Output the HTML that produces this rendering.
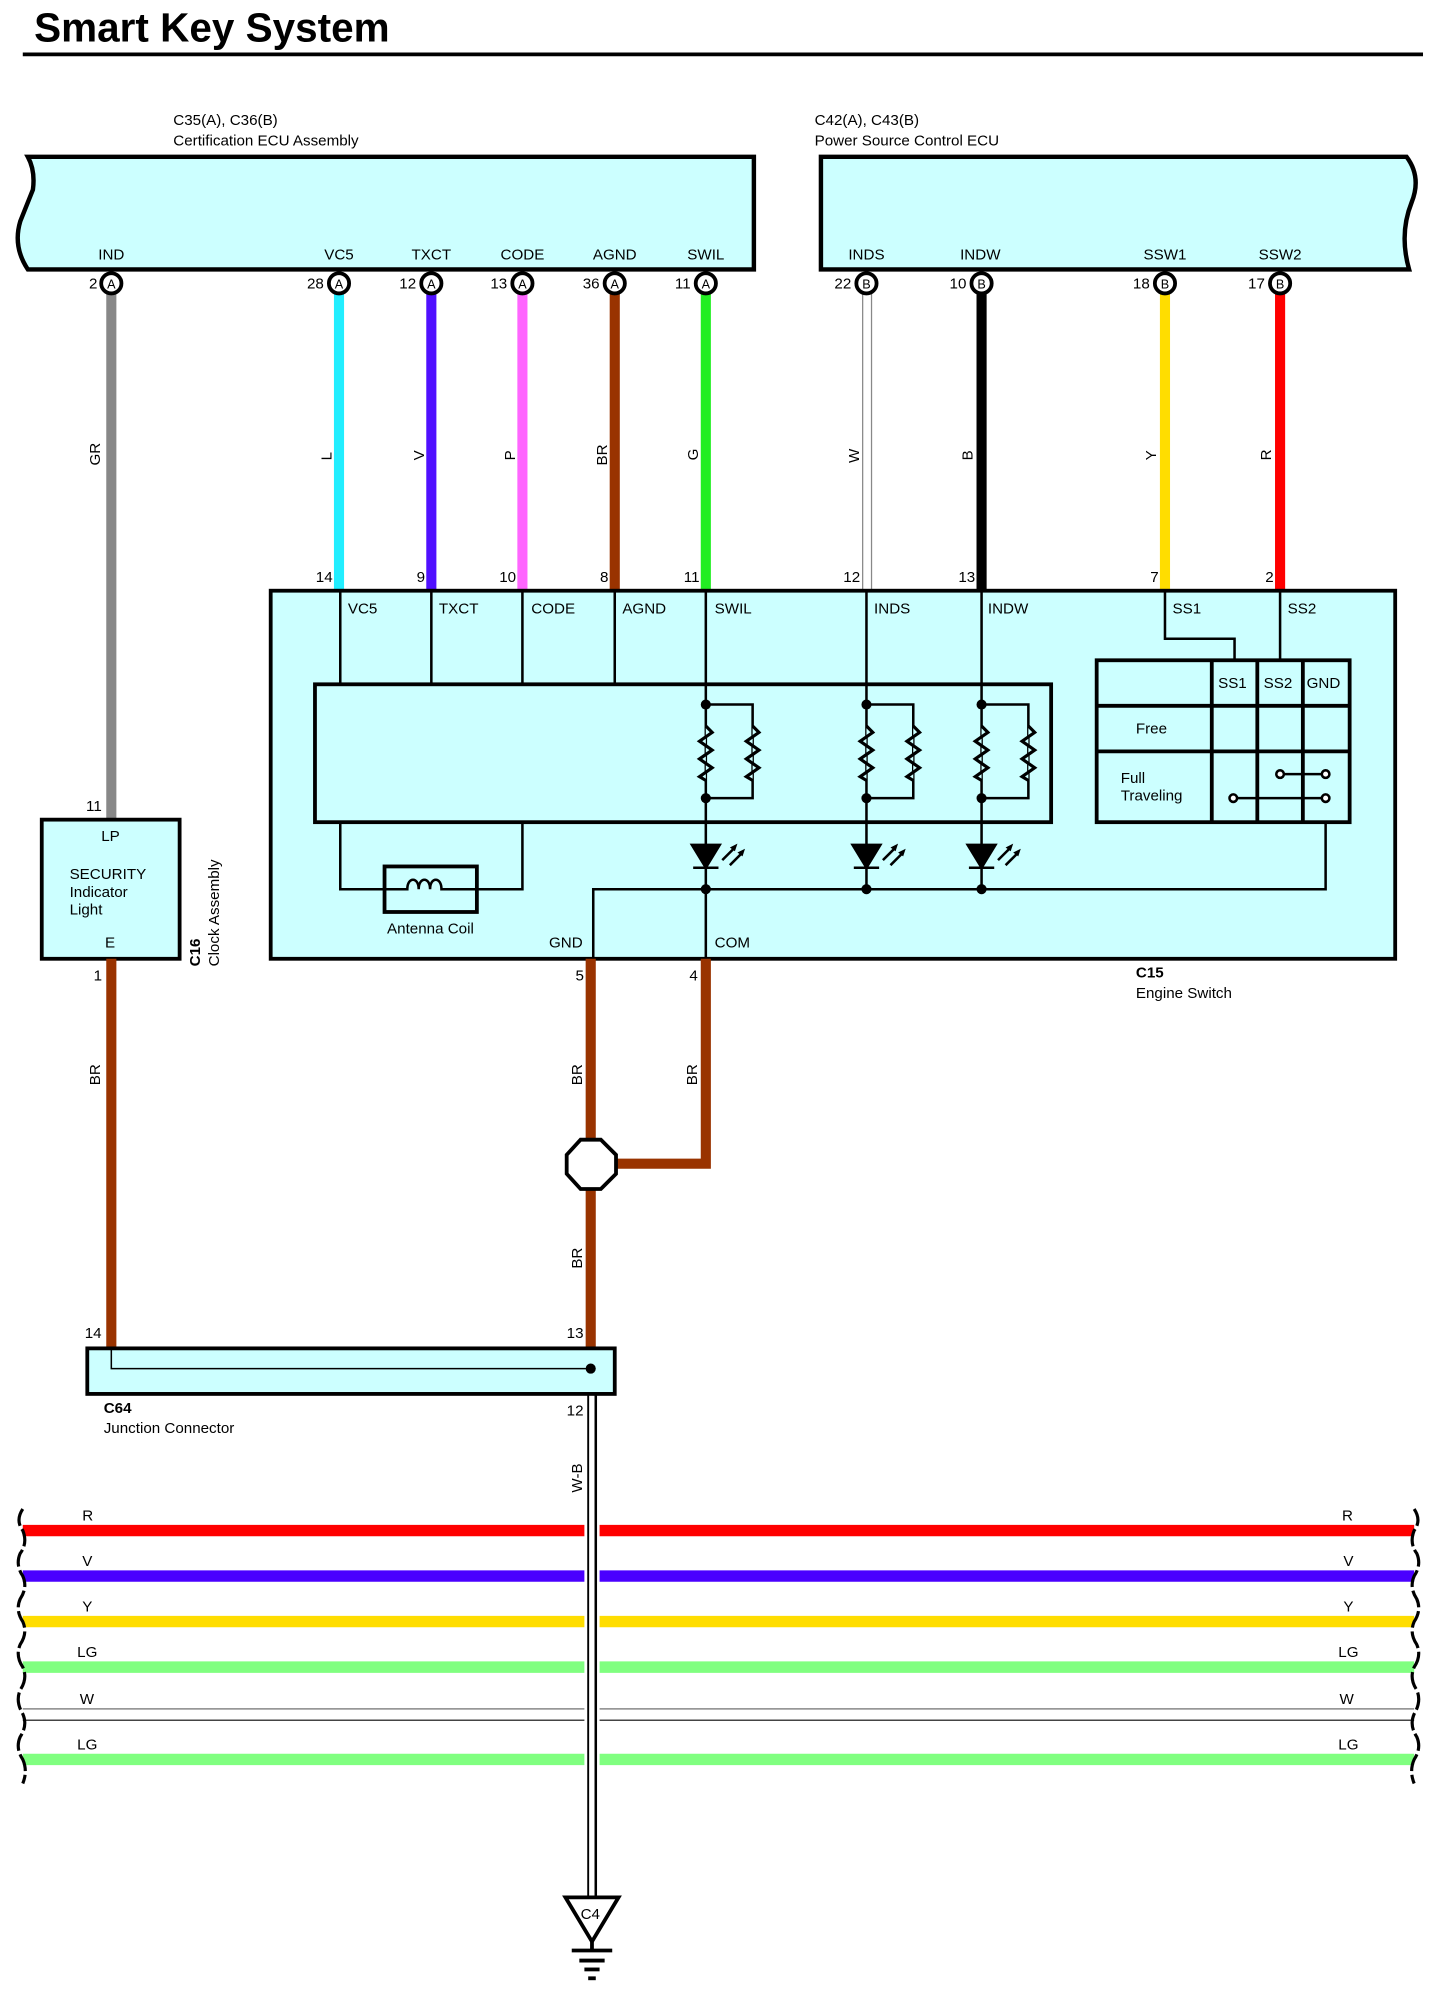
<!DOCTYPE html>
<html><head><meta charset="utf-8"><style>
html,body{margin:0;padding:0;background:#fff}
svg{display:block}
text{font-family:"Liberation Sans",sans-serif;fill:#000}
</style></head><body>
<svg width="1442" height="1996" viewBox="0 0 1140 1578" xmlns="http://www.w3.org/2000/svg">
<rect width="1140" height="1578" fill="#fff"/>
<text x="27" y="33" font-size="32" font-weight="bold">Smart Key System</text>
<line x1="18" y1="43" x2="1125" y2="43" stroke="#000" stroke-width="3"/>

<!-- ECU1 -->
<text x="137" y="99" font-size="12">C35(A), C36(B)</text>
<text x="137" y="115" font-size="12">Certification ECU Assembly</text>
<path d="M22,124 L596,124 L596,213 L22,213 Q10,195 16,175 Q22,160 26,150 Q28,135 22,124 Z" fill="#ccffff" stroke="#000" stroke-width="3.5"/>
<g font-size="12" text-anchor="middle">
<text x="88" y="205">IND</text><text x="268" y="205">VC5</text><text x="341" y="205">TXCT</text>
<text x="413" y="205">CODE</text><text x="486" y="205">AGND</text><text x="558" y="205">SWIL</text>
</g>
<!-- ECU2 -->
<text x="644" y="99" font-size="12">C42(A), C43(B)</text>
<text x="644" y="115" font-size="12">Power Source Control ECU</text>
<path d="M649,124 L1112,124 Q1124,140 1116,160 Q1106,185 1114,213 L649,213 Z" fill="#ccffff" stroke="#000" stroke-width="3.5"/>
<g font-size="12" text-anchor="middle">
<text x="685" y="205">INDS</text><text x="775" y="205">INDW</text><text x="921" y="205">SSW1</text><text x="1012" y="205">SSW2</text>
</g>

<!-- top wires -->
<g stroke-width="8" fill="none">
<line x1="88" y1="232" x2="88" y2="648" stroke="#888"/>
<line x1="268" y1="232" x2="268" y2="467" stroke="#22eeff"/>
<line x1="341" y1="232" x2="341" y2="467" stroke="#5010ff"/>
<line x1="413" y1="232" x2="413" y2="467" stroke="#ff66ff"/>
<line x1="486" y1="232" x2="486" y2="467" stroke="#993300"/>
<line x1="558" y1="232" x2="558" y2="467" stroke="#22ee22"/>
<line x1="776" y1="232" x2="776" y2="467" stroke="#000"/>
<line x1="921" y1="232" x2="921" y2="467" stroke="#ffdd00"/>
<line x1="1012" y1="232" x2="1012" y2="467" stroke="#ff0000"/>
</g>
<line x1="682" y1="232" x2="682" y2="467" stroke="#888" stroke-width="1"/>
<line x1="689" y1="232" x2="689" y2="467" stroke="#888" stroke-width="1"/>
<!-- pins -->
<g stroke="#000" stroke-width="3" fill="#fff">
<circle cx="88" cy="224" r="8"/><circle cx="268" cy="224" r="8"/><circle cx="341" cy="224" r="8"/>
<circle cx="413" cy="224" r="8"/><circle cx="486" cy="224" r="8"/><circle cx="558" cy="224" r="8"/>
<circle cx="685" cy="224" r="8"/><circle cx="776" cy="224" r="8"/><circle cx="921" cy="224" r="8"/><circle cx="1012" cy="224" r="8"/>
</g>
<g font-size="10" text-anchor="middle">
<text x="88" y="228">A</text><text x="268" y="228">A</text><text x="341" y="228">A</text><text x="413" y="228">A</text><text x="486" y="228">A</text><text x="558" y="228">A</text>
<text x="685" y="228">B</text><text x="776" y="228">B</text><text x="921" y="228">B</text><text x="1012" y="228">B</text>
</g>
<g font-size="12" text-anchor="end">
<text x="77" y="228">2</text><text x="256" y="228">28</text><text x="329" y="228">12</text><text x="401" y="228">13</text><text x="474" y="228">36</text><text x="546" y="228">11</text>
<text x="673" y="228">22</text><text x="764" y="228">10</text><text x="909" y="228">18</text><text x="1000" y="228">17</text>
<text x="263" y="460">14</text><text x="336" y="460">9</text><text x="408" y="460">10</text><text x="481" y="460">8</text><text x="553" y="460">11</text>
<text x="680" y="460">12</text><text x="771" y="460">13</text><text x="916" y="460">7</text><text x="1007" y="460">2</text>
</g>
<g font-size="12">
<text transform="translate(79,368) rotate(-90)">GR</text>
<text transform="translate(262,364) rotate(-90)">L</text>
<text transform="translate(335,364) rotate(-90)">V</text>
<text transform="translate(407,364) rotate(-90)">P</text>
<text transform="translate(480,368) rotate(-90)">BR</text>
<text transform="translate(552,364) rotate(-90)">G</text>
<text transform="translate(679,366) rotate(-90)">W</text>
<text transform="translate(769,364) rotate(-90)">B</text>
<text transform="translate(914,364) rotate(-90)">Y</text>
<text transform="translate(1005,364) rotate(-90)">R</text>
</g>

<!-- Engine switch -->
<rect x="214" y="467" width="889" height="291" fill="#ccffff" stroke="#000" stroke-width="3"/>
<g font-size="12">
<text x="275" y="485">VC5</text><text x="347" y="485">TXCT</text><text x="420" y="485">CODE</text><text x="492" y="485">AGND</text>
<text x="565" y="485">SWIL</text><text x="691" y="485">INDS</text><text x="781" y="485">INDW</text><text x="927" y="485">SS1</text><text x="1018" y="485">SS2</text>
<text x="434" y="749">GND</text><text x="565" y="749">COM</text>
<text x="306" y="738">Antenna Coil</text>
</g>
<g stroke="#000" stroke-width="2" fill="none">
<line x1="269" y1="467" x2="269" y2="541"/><line x1="341" y1="467" x2="341" y2="541"/>
<line x1="413" y1="467" x2="413" y2="541"/><line x1="486" y1="467" x2="486" y2="541"/>
<line x1="558" y1="467" x2="558" y2="758"/><line x1="685" y1="467" x2="685" y2="703"/><line x1="776" y1="467" x2="776" y2="703"/>
<polyline points="921,467 921,505 976,505 976,522"/>
<line x1="1012" y1="467" x2="1012" y2="522"/>
<polyline points="269,650 269,703 304,703"/><polyline points="377,703 413,703 413,650"/>
<polyline points="469,758 469,703 1048,703 1048,650"/>
</g>
<rect x="249" y="541" width="582" height="109" fill="#ccffff" stroke="#000" stroke-width="3"/>
<!-- resistors -->
<g stroke="#000" stroke-width="2" fill="none">
<line x1="558" y1="541" x2="558" y2="650"/><polyline points="558,557 595,557 595,631 558,631"/>
<line x1="685" y1="541" x2="685" y2="650"/><polyline points="685,557 722,557 722,631 685,631"/>
<line x1="776" y1="541" x2="776" y2="650"/><polyline points="776,557 813,557 813,631 776,631"/>
</g>
<g stroke="#000" stroke-width="2.5" fill="#ccffff">
<polyline points="558,574 563,579 553,586 563,593 553,600 563,607 553,614 558,617"/>
<polyline points="595,574 600,579 590,586 600,593 590,600 600,607 590,614 595,617"/>
<polyline points="685,574 690,579 680,586 690,593 680,600 690,607 680,614 685,617"/>
<polyline points="722,574 727,579 717,586 727,593 717,600 727,607 717,614 722,617"/>
<polyline points="776,574 781,579 771,586 781,593 771,600 781,607 771,614 776,617"/>
<polyline points="813,574 818,579 808,586 818,593 808,600 818,607 808,614 813,617"/>
</g>
<g fill="#000">
<circle cx="558" cy="557" r="4"/><circle cx="558" cy="631" r="4"/><circle cx="685" cy="557" r="4"/><circle cx="685" cy="631" r="4"/>
<circle cx="776" cy="557" r="4"/><circle cx="776" cy="631" r="4"/>
<circle cx="558" cy="703" r="4"/><circle cx="685" cy="703" r="4"/><circle cx="776" cy="703" r="4"/>
</g>
<!-- LEDs -->
<g stroke="#000" stroke-width="2" fill="#000">
<path d="M547,668 L569,668 L558,686 Z"/><line x1="548" y1="686" x2="568" y2="686"/>
<path d="M674,668 L696,668 L685,686 Z"/><line x1="675" y1="686" x2="695" y2="686"/>
<path d="M765,668 L787,668 L776,686 Z"/><line x1="766" y1="686" x2="786" y2="686"/>
</g>
<g stroke="#000" stroke-width="2">
<line x1="571" y1="680" x2="581" y2="670"/><line x1="577" y1="684" x2="587" y2="674"/>
<line x1="698" y1="680" x2="708" y2="670"/><line x1="704" y1="684" x2="714" y2="674"/>
<line x1="789" y1="680" x2="799" y2="670"/><line x1="795" y1="684" x2="805" y2="674"/>
</g>
<g fill="#000"><path d="M583,667 L577,670 L581,673Z"/><path d="M589,671 L583,674 L587,677Z"/>
<path d="M710,667 L704,670 L708,673Z"/><path d="M716,671 L710,674 L714,677Z"/>
<path d="M801,667 L795,670 L799,673Z"/><path d="M807,671 L801,674 L805,677Z"/></g>
<!-- antenna coil -->
<rect x="304" y="685" width="73" height="36" fill="#ccffff" stroke="#000" stroke-width="3"/>
<path d="M304,703 L322,703 C322,693 331,693 331,703 C331,693 340,693 340,703 C340,693 349,693 349,703 L377,703" fill="none" stroke="#000" stroke-width="2"/>
<!-- table -->
<g stroke="#000" stroke-width="3" fill="none">
<rect x="867" y="522" width="200" height="128" fill="#ccffff"/>
<line x1="867" y1="558" x2="1067" y2="558"/><line x1="867" y1="594" x2="1067" y2="594"/>
<line x1="958" y1="522" x2="958" y2="650"/><line x1="994" y1="522" x2="994" y2="650"/><line x1="1030" y1="522" x2="1030" y2="650"/>
</g>
<g font-size="12"><text x="963" y="544">SS1</text><text x="999" y="544">SS2</text><text x="1033" y="544">GND</text>
<text x="898" y="580">Free</text><text x="886" y="619">Full</text><text x="886" y="633">Traveling</text></g>
<g stroke="#000" stroke-width="2" fill="#fff">
<line x1="1012" y1="612" x2="1048" y2="612"/><line x1="975" y1="631" x2="1048" y2="631"/>
<circle cx="1012" cy="612" r="3"/><circle cx="1048" cy="612" r="3"/><circle cx="975" cy="631" r="3"/><circle cx="1048" cy="631" r="3"/>
</g>
<text x="898" y="773" font-size="12" font-weight="bold">C15</text>
<text x="898" y="789" font-size="12">Engine Switch</text>

<!-- Clock -->
<rect x="33" y="648" width="109" height="110" fill="#ccffff" stroke="#000" stroke-width="3"/>
<g font-size="12"><text x="68" y="641">11</text><text x="80" y="665">LP</text>
<text x="55" y="695">SECURITY</text><text x="55" y="709">Indicator</text><text x="55" y="723">Light</text>
<text x="83" y="749">E</text><text x="74" y="775">1</text><text x="455" y="775">5</text><text x="545" y="775">4</text>
<text x="67" y="1058">14</text><text x="448" y="1058">13</text><text x="448" y="1119">12</text></g>
<text transform="translate(158,764) rotate(-90)" font-size="12"><tspan font-weight="bold">C16</tspan></text>
<text transform="translate(173,764) rotate(-90)" font-size="12">Clock Assembly</text>

<!-- lower BR wires -->
<g stroke="#993300" stroke-width="8" fill="none">
<line x1="88" y1="758" x2="88" y2="1066"/>
<line x1="467" y1="758" x2="467" y2="1066"/>
<polyline points="558,758 558,920 487,920"/>
</g>
<polygon points="459,901 475,901 487,913 487,928 475,940 459,940 448,928 448,913" fill="#fff" stroke="#000" stroke-width="3"/>
<g font-size="12">
<text transform="translate(460,858) rotate(-90)">BR</text>
<text transform="translate(551,858) rotate(-90)">BR</text>
<text transform="translate(460,1003) rotate(-90)">BR</text>
<text transform="translate(79,858) rotate(-90)">BR</text>
<text transform="translate(460,1180) rotate(-90)">W-B</text>
</g>
<!-- junction -->
<rect x="69" y="1066" width="417" height="36" fill="#ccffff" stroke="#000" stroke-width="3"/>
<polyline points="88,1066 88,1082 467,1082" fill="none" stroke="#000" stroke-width="1.2"/>
<circle cx="467" cy="1082" r="4" fill="#000"/>
<text x="82" y="1117" font-size="12" font-weight="bold">C64</text>
<text x="82" y="1133" font-size="12">Junction Connector</text>

<!-- horizontal wires -->
<g stroke-width="9">
<line x1="18" y1="1210" x2="462" y2="1210" stroke="#ff0000"/><line x1="474" y1="1210" x2="1118" y2="1210" stroke="#ff0000"/>
<line x1="18" y1="1246" x2="462" y2="1246" stroke="#4a00ff"/><line x1="474" y1="1246" x2="1118" y2="1246" stroke="#4a00ff"/>
<line x1="18" y1="1282" x2="462" y2="1282" stroke="#ffdd00"/><line x1="474" y1="1282" x2="1118" y2="1282" stroke="#ffdd00"/>
<line x1="18" y1="1318" x2="462" y2="1318" stroke="#80ff80"/><line x1="474" y1="1318" x2="1118" y2="1318" stroke="#80ff80"/>
<line x1="18" y1="1391" x2="462" y2="1391" stroke="#80ff80"/><line x1="474" y1="1391" x2="1118" y2="1391" stroke="#80ff80"/>
</g>
<g stroke-width="1.2">
<line x1="18" y1="1351" x2="462" y2="1351" stroke="#888"/><line x1="474" y1="1351" x2="1118" y2="1351" stroke="#888"/>
<line x1="18" y1="1360" x2="462" y2="1360" stroke="#444"/><line x1="474" y1="1360" x2="1118" y2="1360" stroke="#444"/>
</g>
<g font-size="12">
<text x="65" y="1202">R</text><text x="65" y="1238">V</text><text x="65" y="1274">Y</text><text x="61" y="1310">LG</text><text x="63" y="1347">W</text><text x="61" y="1383">LG</text>
<text x="1061" y="1202">R</text><text x="1062" y="1238">V</text><text x="1062" y="1274">Y</text><text x="1058" y="1310">LG</text><text x="1059" y="1347">W</text><text x="1058" y="1383">LG</text>
</g>
<path d="M18,1193 Q12,1202 18,1210 Q22,1220 16,1228 Q12,1237 18,1246 Q22,1255 16,1264 Q12,1273 18,1282 Q22,1291 16,1300 Q12,1309 18,1318 Q22,1327 16,1336 Q12,1345 18,1355 Q22,1364 16,1373 Q12,1382 18,1391 Q22,1400 18,1410" fill="none" stroke="#000" stroke-width="2.5" stroke-dasharray="14,3"/>
<path d="M1118,1193 Q1124,1202 1118,1210 Q1114,1220 1120,1228 Q1124,1237 1118,1246 Q1114,1255 1120,1264 Q1124,1273 1118,1282 Q1114,1291 1120,1300 Q1124,1309 1118,1318 Q1114,1327 1120,1336 Q1124,1345 1118,1355 Q1114,1364 1120,1373 Q1124,1382 1118,1391 Q1114,1400 1118,1410" fill="none" stroke="#000" stroke-width="2.5" stroke-dasharray="14,3"/>
<!-- W-B wire -->
<line x1="465" y1="1102" x2="465" y2="1500" stroke="#000" stroke-width="1.5"/>
<line x1="471" y1="1102" x2="471" y2="1500" stroke="#000" stroke-width="2"/>
<!-- ground -->
<path d="M447,1500 L489,1500 L468,1535 Z" fill="#fff" stroke="#000" stroke-width="3"/>
<text x="459" y="1517" font-size="12">C4</text>
<g stroke="#000" stroke-width="3">
<line x1="468" y1="1535" x2="468" y2="1542"/>
<line x1="452" y1="1542" x2="484" y2="1542"/><line x1="458" y1="1550" x2="478" y2="1550"/><line x1="462" y1="1557" x2="474" y2="1557"/><line x1="465" y1="1564" x2="471" y2="1564"/>
</g>
</svg>
</body></html>
